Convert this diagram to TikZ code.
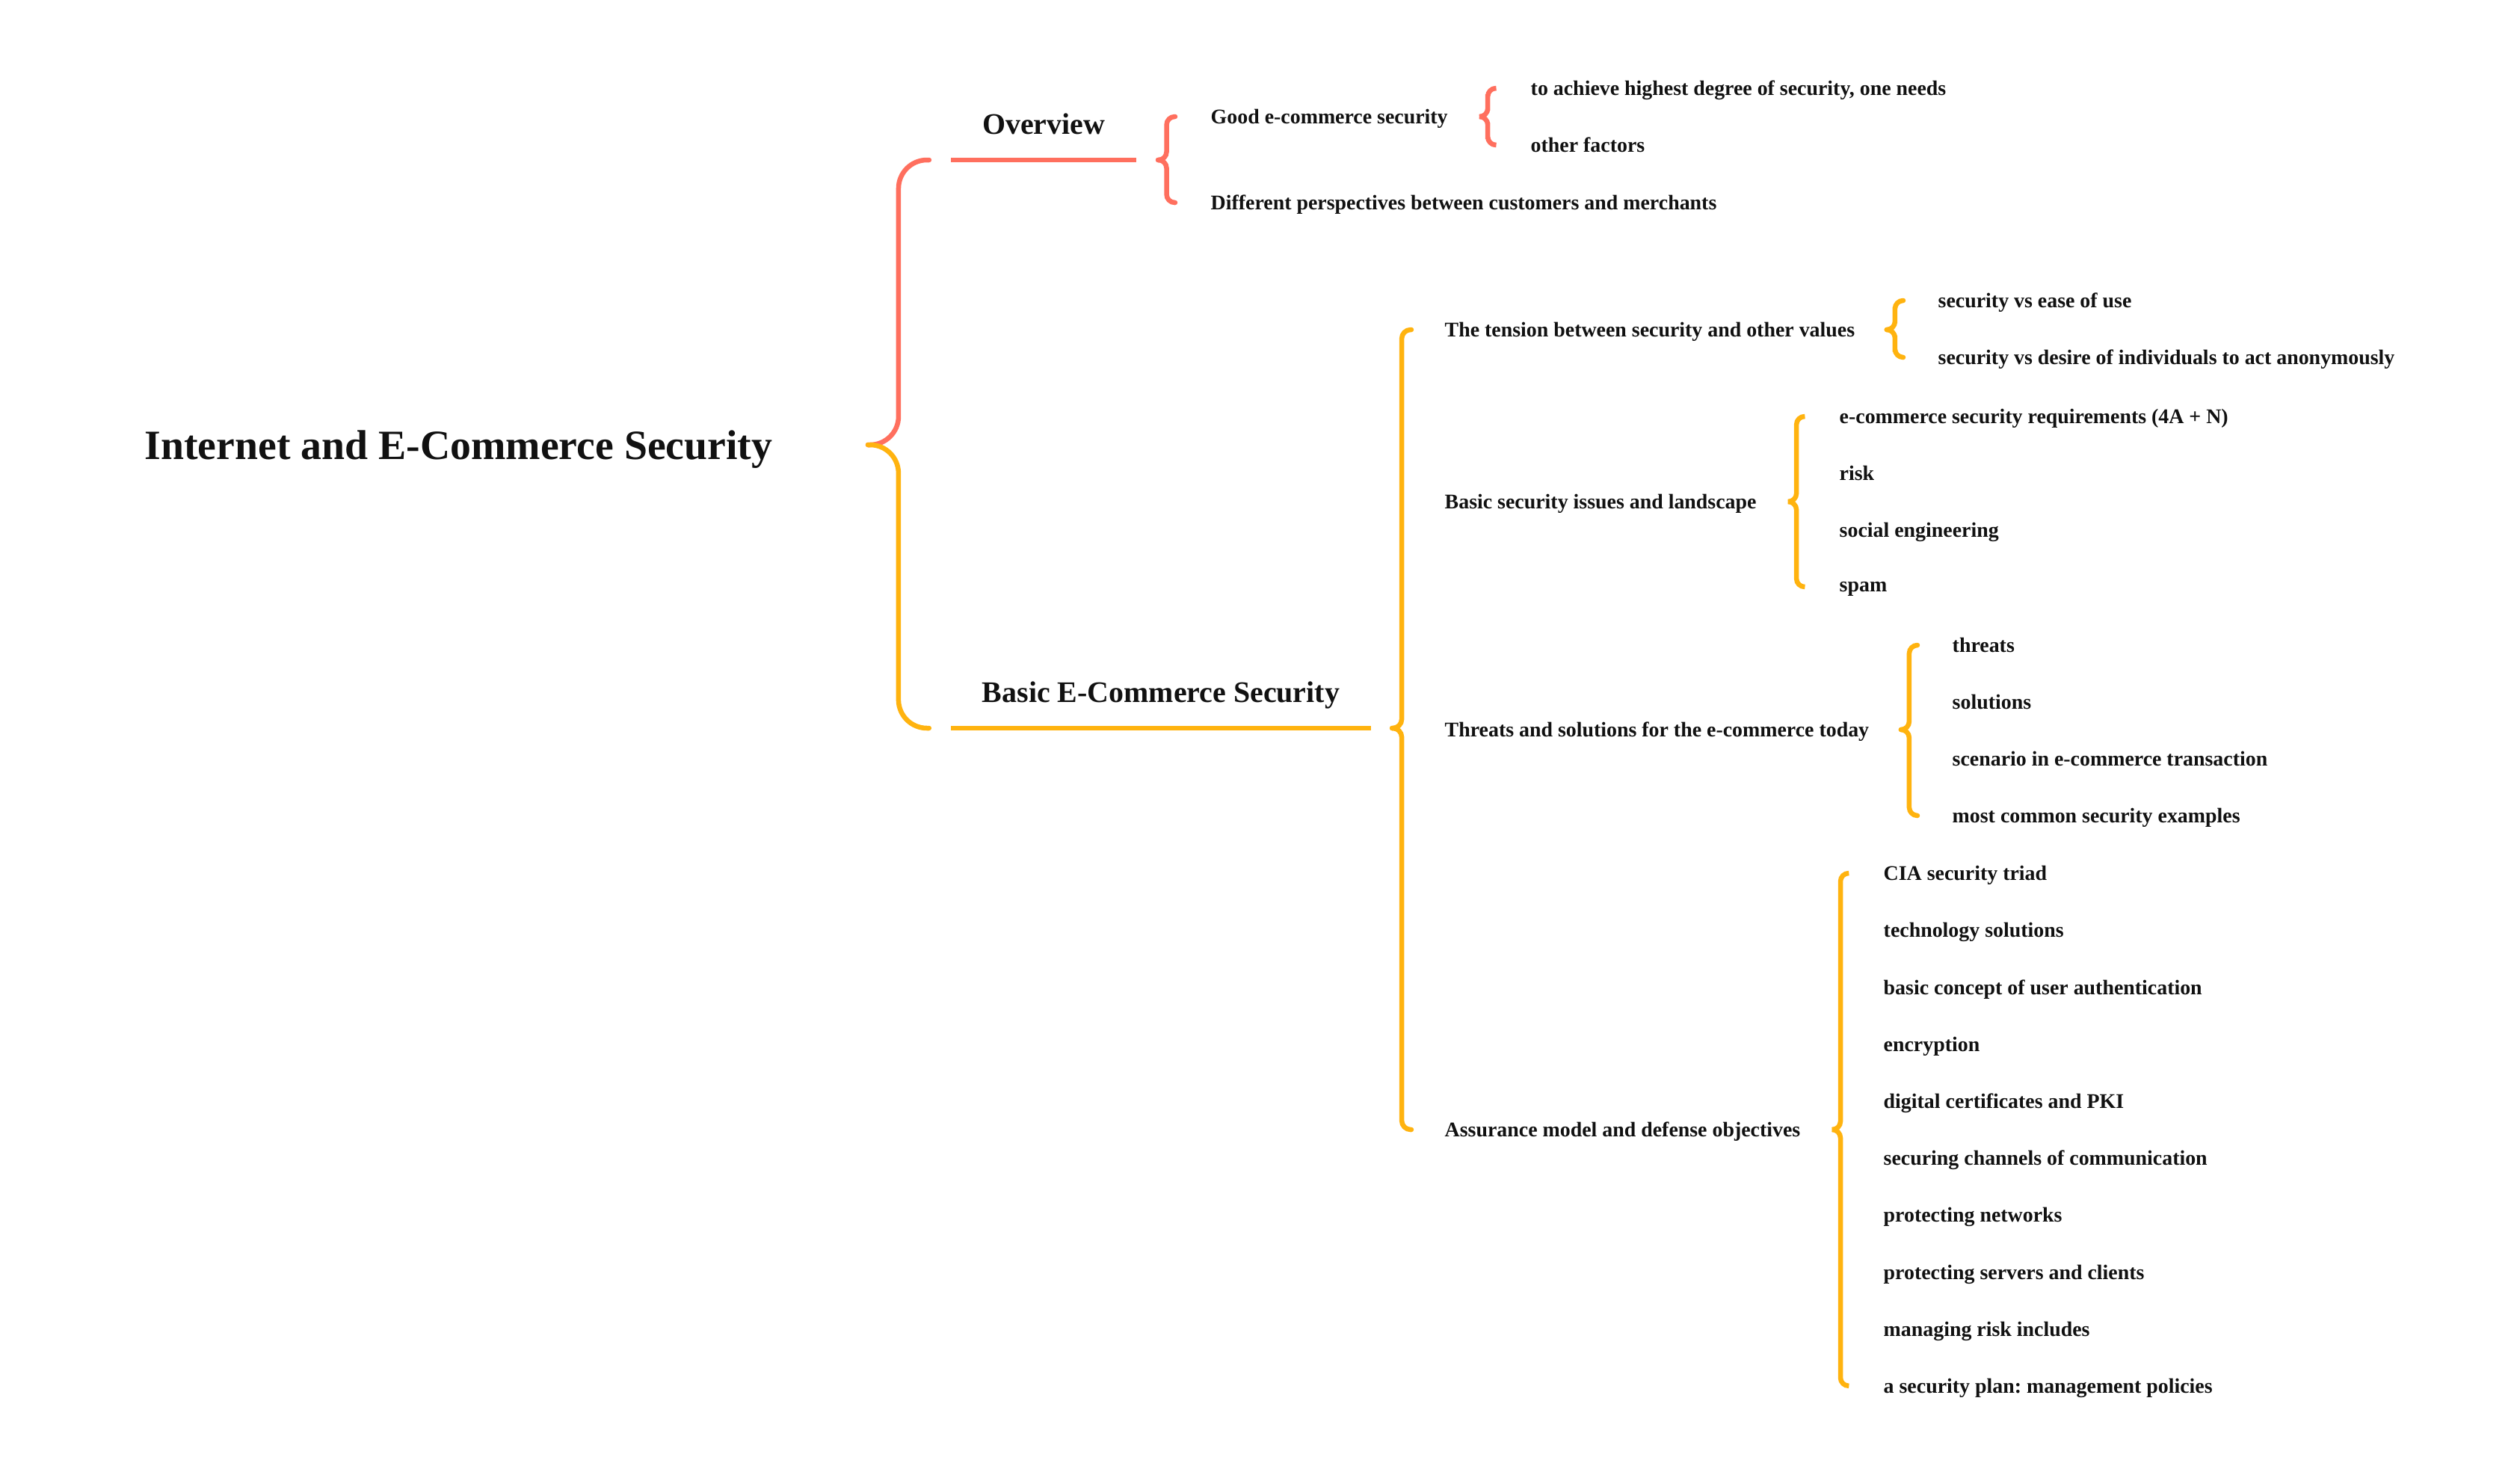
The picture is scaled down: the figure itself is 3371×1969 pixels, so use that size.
\documentclass[tikz,border=0pt]{standalone}
\usepackage{fontspec}
\setmainfont{Liberation Serif}
\frenchspacing
\usetikzlibrary{calc,positioning}

\definecolor{ored}{RGB}{255,111,94}
\definecolor{oyel}{RGB}{255,179,15}
\definecolor{ink}{RGB}{17,17,17}
\tikzset{
    root/.style={font={\fontsize{15.85}{18}\selectfont\bfseries},text=ink,anchor=west,inner sep=0pt,text depth=0pt},
    topic/.style={font={\fontsize{11.35}{13}\selectfont\bfseries},text=ink,inner sep=0pt},
    leaf/.style={font={\fontsize{7.93}{9}\selectfont\bfseries},text=ink,anchor=west,inner sep=0pt,text depth=0pt},
    bar/.style={fill=#1,rectangle,minimum height=0.065cm,inner sep=0pt,outer sep=0pt},
    hook/.style={line width=1.85pt,line cap=round,rounded corners=#1},
    hook/.default=0.11cm,
}
\newcommand{\bracket}[4][]{
    \coordinate (#4-end) at ([xshift=-#3]#4.west);
    \draw[hook,#1] (#2) -| ($(#2)!.5!(#4-end)$) |- (#4-end);
}

\begin{document}
\begin{tikzpicture}[x=0.01cm,y=-0.01cm]
    \useasboundingbox (0,0) rectangle (3371,1969);

    \node[root] (root) at (193,595) {Internet and E-Commerce Security};

    \node[bar=ored,minimum width=2.48cm] (ovbar) at (1396,214) {};
    \node[topic,above=0.31cm of ovbar,anchor=base] (ov) {Overview};
    \node[bar=oyel,minimum width=5.62cm] (bsbar) at (1553,974) {};
    \node[topic,above=0.31cm of bsbar,anchor=base] (bs) {Basic E-Commerce Security};

    % overview
    \node[leaf] (good) at (1619,156) {Good e-commerce security};
    \node[leaf] (diff) at (1619,271) {Different perspectives between customers and merchants};
    \node[leaf] (gd1) at (2047,118) {to achieve highest degree of security, one needs};
    \node[leaf] (gd2) at (2047,194) {other factors};

    % basic e-commerce security
    \node[leaf] (tension) at (1932,441) {The tension between security and other values};
    \node[leaf] (issues) at (1932,671) {Basic security issues and landscape};
    \node[leaf] (threats) at (1932,976) {Threats and solutions for the e-commerce today};
    \node[leaf] (assure) at (1932,1511) {Assurance model and defense objectives};

    \foreach \t [count=\i] in {security vs ease of use, security vs desire of individuals to act anonymously}
        \node[leaf] (te\i) at (2592,{402+76*(\i-1)}) {\t};
    \foreach \t [count=\i] in {e-commerce security requirements (4A + N), risk, social engineering, spam}
        \node[leaf] (is\i) at (2460,{557+76*(\i-1)}) {\t};
    \foreach \t [count=\i] in {threats, solutions, scenario in e-commerce transaction, most common security examples}
        \node[leaf] (th\i) at (2611,{863+76*(\i-1)}) {\t};
    \foreach \t [count=\i] in {CIA security triad, technology solutions, basic concept of user authentication,
        encryption, digital certificates and PKI, securing channels of communication, protecting networks,
        protecting servers and clients, managing risk includes, a security plan: management policies}
        \node[leaf] (as\i) at (2519,{1168+76.2*(\i-1)}) {\t};

    % braces
    \coordinate (root-tip) at ([xshift=1.27cm]root.east);
    \bracket[draw=ored,hook=0.38cm]{root-tip}{0.29cm}{ovbar}
    \bracket[draw=oyel,hook=0.38cm]{root-tip}{0.29cm}{bsbar}

    \coordinate (ov-tip) at ([xshift=0.29cm]ovbar.east);
    \bracket[draw=ored]{ov-tip}{0.47cm}{good}
    \bracket[draw=ored]{ov-tip}{0.47cm}{diff}
    \coordinate (good-tip) at ([xshift=0.42cm]good.east);
    \bracket[draw=ored]{good-tip}{0.46cm}{gd1}
    \bracket[draw=ored]{good-tip}{0.46cm}{gd2}

    \coordinate (bs-tip) at ([xshift=0.28cm]bsbar.east);
    \bracket[draw=oyel,hook=0.12cm]{bs-tip}{0.44cm}{tension}
    \bracket[draw=oyel,hook=0.12cm]{bs-tip}{0.44cm}{assure}
    \foreach \p/\a/\b in {tension/te1/te2, issues/is1/is4, threats/th1/th4, assure/as1/as10}{
        \coordinate (\p-tip) at ([xshift=0.42cm]\p.east);
        \bracket[draw=oyel]{\p-tip}{0.46cm}{\a}
        \bracket[draw=oyel]{\p-tip}{0.46cm}{\b}
    }
\end{tikzpicture}
\end{document}
